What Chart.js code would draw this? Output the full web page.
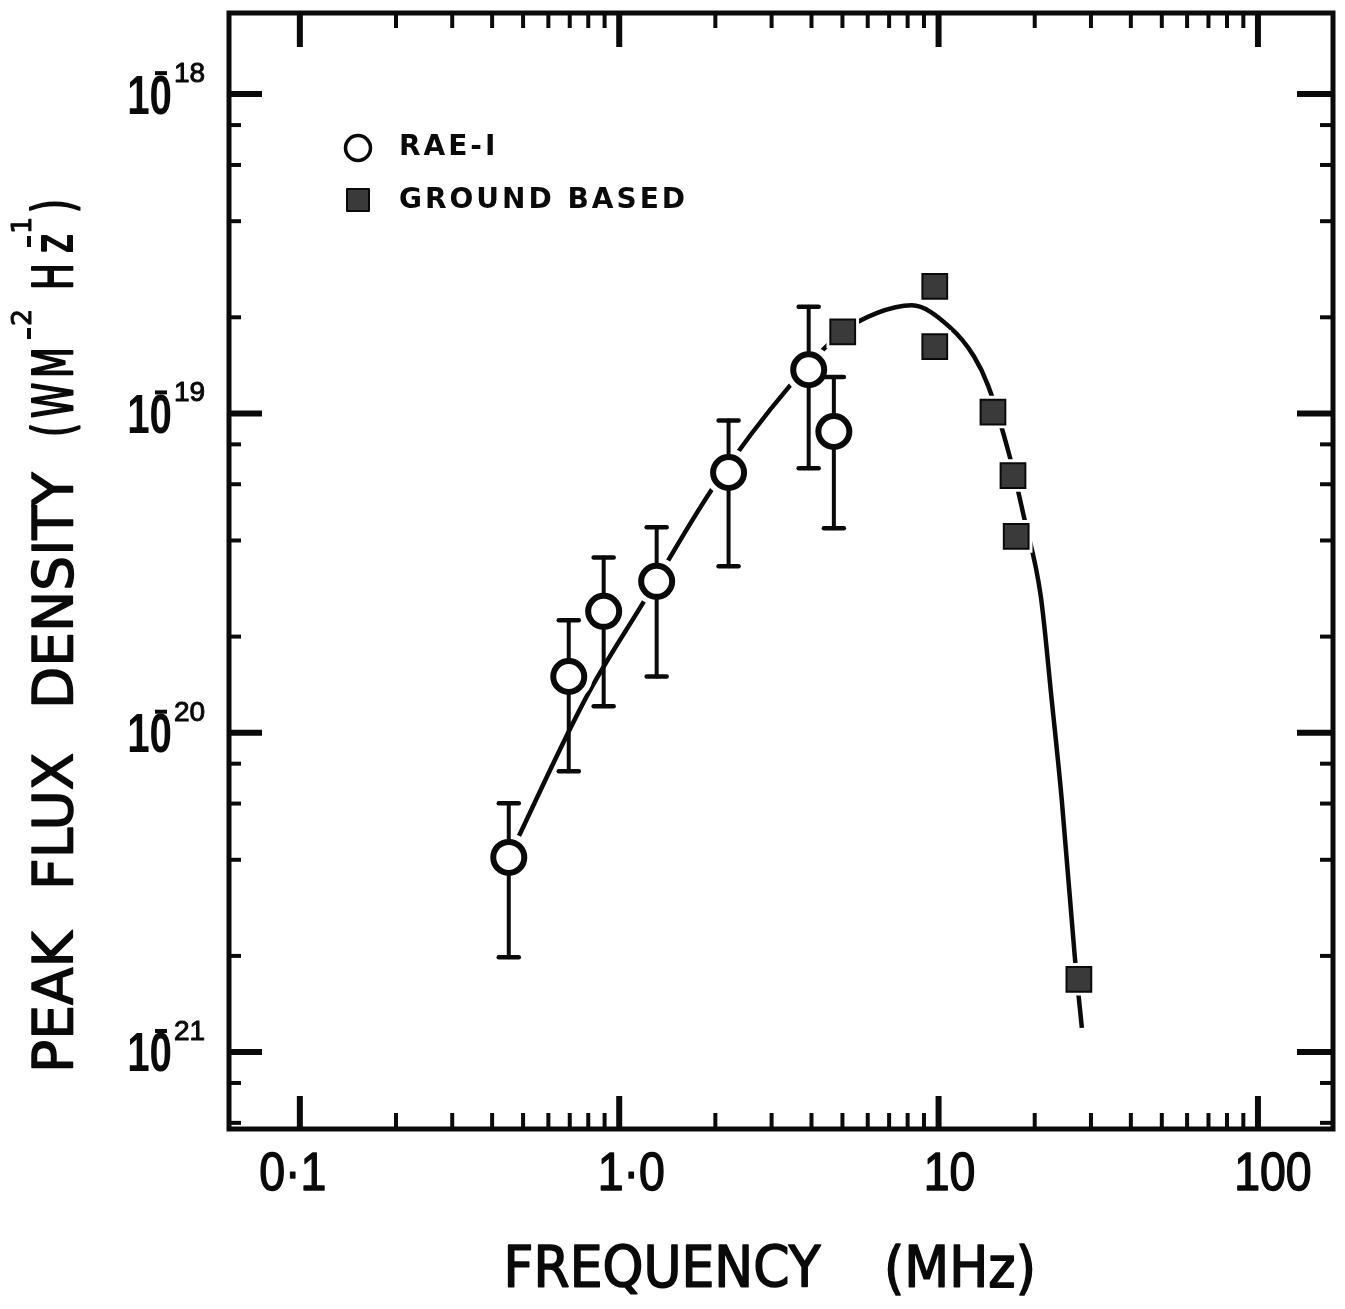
<!DOCTYPE html>
<html>
<head>
<meta charset="utf-8">
<script src="https://cdn.jsdelivr.net/npm/chart.js@4.4.1/dist/chart.umd.min.js"></script>
<style>
  html, body { margin: 0; padding: 0; background: #fff; overflow: hidden; }
  #wrap { width: 1345px; height: 1309px; }
  canvas { display: block; }
</style>
</head>
<body>
<div id="wrap"><canvas id="chart" width="1345" height="1309"></canvas></div>
<script>
// RAE-I points (MHz, W m^-2 Hz^-1) with error bar ends
const raeFreq = [0.451, 0.695, 0.894, 1.31, 2.20, 3.92, 4.70];
const raeFlux = [4.07e-21, 1.50e-20, 2.40e-20, 2.98e-20, 6.53e-20, 1.37e-19, 8.78e-20];
const raeHigh = [6.01e-21, 2.25e-20, 3.54e-20, 4.40e-20, 9.51e-20, 2.16e-19, 1.30e-19];
const raeLow  = [1.98e-21, 7.57e-21, 1.21e-20, 1.50e-20, 3.32e-20, 6.73e-20, 4.37e-20];

// ground based points
const groundFreq = [5.01, 9.73, 9.73, 14.8, 17.1, 17.5, 27.5];
const groundFlux = [1.80e-19, 2.50e-19, 1.62e-19, 1.01e-19, 6.39e-20, 4.12e-20, 1.69e-21];

// hand-drawn fit curve
const curveFreq = [0.451, 0.791, 1.19, 1.95, 3.42, 5.01, 6.40, 8.24, 10.8, 12.9, 14.3, 16.7, 18.5, 20.9, 22.6, 24.3, 26.7, 28.1];
const curveFlux = [4.07e-21, 1.30e-20, 2.56e-20, 5.78e-20, 1.22e-19, 1.80e-19, 2.06e-19, 2.18e-19, 1.87e-19,
                   1.51e-19, 1.22e-19, 7.33e-20, 4.75e-20, 2.67e-20, 1.27e-20, 6.18e-21, 1.99e-21, 1.19e-21];

// axes
const xMajor = [0.1, 1, 10, 100];
const xTickLabels = ["0·1", "1·0", "10", "100"];
const xMinor = [0.2, 0.3, 0.4, 0.5, 0.6, 0.7, 0.8, 0.9, 2, 3, 4, 5, 6, 7, 8, 9, 20, 30, 40, 50, 60, 70, 80, 90];
const yMajor = [1e-18, 1e-19, 1e-20, 1e-21];
const yTickExp = ["18", "19", "20", "21"];
const yMinor = [8e-19, 6e-19, 4e-19, 2e-19, 8e-20, 6e-20, 4e-20, 2e-20, 8e-21, 6e-21, 4e-21, 2e-21, 8e-22, 6e-22];

const ink = "#0a0a0a";
const pts = (xs, ys) => xs.map((v, i) => ({x: v, y: ys[i]}));

function line(ctx, x1, y1, x2, y2, w) {
  ctx.lineWidth = w;
  ctx.beginPath(); ctx.moveTo(x1, y1); ctx.lineTo(x2, y2); ctx.stroke();
}

// filled text with a thin outline for the lettering-set look
function heavy(ctx, t, x, y, w) {
  ctx.fillText(t, x, y);
  ctx.lineWidth = w;
  ctx.lineJoin = "round";
  ctx.strokeText(t, x, y);
}

// error bars go under the open circles
const errorBars = {
  id: "errorBars",
  beforeDatasetDraw(chart, args) {
    if (args.index !== 3) return;
    const {ctx, scales: {x, y}} = chart;
    ctx.save();
    ctx.strokeStyle = ink; ctx.lineCap = "round";
    raeFreq.forEach((f, i) => {
      const px = x.getPixelForValue(f);
      const hi = y.getPixelForValue(raeHigh[i]), lo = y.getPixelForValue(raeLow[i]);
      line(ctx, px, hi, px, lo, 4);
      line(ctx, px - 10, hi, px + 10, hi, 4.5);
      line(ctx, px - 10, lo, px + 10, lo, 4.5);
    });
    ctx.restore();
  }
};

const frame = {
  id: "frame",
  afterDraw(chart) {
    const {ctx, chartArea: a, scales: {x, y}} = chart;
    ctx.save();
    ctx.strokeStyle = ink; ctx.fillStyle = ink; ctx.lineCap = "butt";
    ctx.lineWidth = 5;
    ctx.strokeRect(a.left, a.top, a.right - a.left, a.bottom - a.top);

    xMajor.forEach(v => {
      const px = x.getPixelForValue(v);
      line(ctx, px, a.top, px, a.top + 34, 6);
      line(ctx, px, a.bottom, px, a.bottom - 33, 6);
    });
    xMinor.forEach(v => {
      const px = x.getPixelForValue(v);
      line(ctx, px, a.top, px, a.top + 15, 4);
      line(ctx, px, a.bottom, px, a.bottom - 16, 4);
    });
    yMajor.forEach(v => {
      const py = y.getPixelForValue(v);
      line(ctx, a.left, py, a.left + 33, py, 6);
      line(ctx, a.right, py, a.right - 36, py, 6);
    });
    yMinor.forEach(v => {
      const py = y.getPixelForValue(v);
      line(ctx, a.left, py, a.left + 12, py, 4);
      line(ctx, a.right, py, a.right - 13, py, 4);
    });

    // x tick labels, set a little off the tick like the lettering
    const nudge = [-7, 12, 11, 15];
    xMajor.forEach((v, i) => {
      ctx.save();
      ctx.translate(x.getPixelForValue(v) + nudge[i], 1175);
      ctx.scale(0.86, 1);
      ctx.font = "54px 'Liberation Sans'";
      ctx.textAlign = "center"; ctx.textBaseline = "middle";
      heavy(ctx, xTickLabels[i], 0, 0, 1.5);
      ctx.restore();
    });

    // y tick labels: 10 with bar over the 0 and exponent
    yMajor.forEach((v, i) => {
      const py = y.getPixelForValue(v);
      ctx.save();
      ctx.translate(172, py + 4);
      ctx.scale(0.72, 1);
      ctx.font = "bold 56px 'Liberation Sans'";
      ctx.textAlign = "right"; ctx.textBaseline = "middle";
      ctx.fillText("10", 0, 0);
      ctx.restore();
      ctx.fillRect(155, py - 23, 12, 4);
      ctx.font = "28px 'Liberation Sans'";
      ctx.textAlign = "left"; ctx.textBaseline = "alphabetic";
      heavy(ctx, yTickExp[i], 174, py - 12, 1);
    });

    // x axis title
    ctx.font = "52px 'DejaVu Sans'";
    ctx.textAlign = "center"; ctx.textBaseline = "middle";
    [["FREQUENCY", 662], ["(MHz)", 960]].forEach(([t, cx]) => {
      ctx.save();
      ctx.translate(cx, 1272);
      ctx.scale(1, 1.1);
      heavy(ctx, t, 0, 0, 1.5);
      ctx.restore();
    });

    // y axis title, read bottom to top
    ctx.save();
    ctx.translate(58, 1073);
    ctx.rotate(-Math.PI / 2);
    ctx.textAlign = "left"; ctx.textBaseline = "middle";
    ctx.font = "55px 'DejaVu Sans'";
    heavy(ctx, "PEAK", 0, 0, 1.5);
    heavy(ctx, "FLUX", 183, 0, 1.5);
    heavy(ctx, "DENSITY", 364, 0, 1.5);
    // condensed unit lettering
    [["(", 636], ["W", 655], ["M", 695], ["H", 783], ["z", 820], [")", 860]].forEach(([t, u]) => {
      ctx.save();
      ctx.translate(u, 0);
      ctx.scale(0.65, 1);
      heavy(ctx, t, 0, 0, 2);
      ctx.restore();
    });
    ctx.font = "27px 'DejaVu Sans'";
    ctx.fillRect(734, -31, 11, 4);
    heavy(ctx, "2", 747, -34, 1);
    ctx.fillRect(826, -31, 11, 4);
    heavy(ctx, "1", 839, -34, 1);
    ctx.restore();

    // legend
    ctx.lineWidth = 3.5;
    ctx.beginPath(); ctx.arc(358, 148, 12.5, 0, Math.PI * 2); ctx.stroke();
    ctx.fillStyle = "#3a3a3a"; ctx.fillRect(347, 189, 22, 22);
    ctx.lineWidth = 2; ctx.strokeRect(347, 189, 22, 22);
    ctx.fillStyle = ink;
    ctx.font = "bold 28px 'DejaVu Sans'";
    ctx.letterSpacing = "3px";
    ctx.textAlign = "left"; ctx.textBaseline = "middle";
    ctx.fillText("RAE-I", 399, 148);
    ctx.fillText("GROUND BASED", 399, 201);
    ctx.restore();
  }
};

new Chart(document.getElementById("chart"), {
  type: "scatter",
  data: {
    datasets: [
      { type: "line", label: "fit", data: pts(curveFreq, curveFlux), borderColor: ink, borderWidth: 4.5,
        cubicInterpolationMode: "monotone", pointRadius: 0, fill: false, order: 5 },
      { label: "halo rae", data: pts(raeFreq, raeFlux), pointRadius: 24, pointBackgroundColor: "#fff",
        pointBorderWidth: 0, order: 4 },
      { label: "halo ground", data: pts(groundFreq, groundFlux), pointStyle: "rect", pointRadius: 23,
        pointBackgroundColor: "#fff", pointBorderWidth: 0, order: 3 },
      { label: "RAE-I", data: pts(raeFreq, raeFlux), pointRadius: 15.5, pointBackgroundColor: "#fff",
        pointBorderColor: ink, pointBorderWidth: 6, order: 1 },
      { label: "GROUND BASED", data: pts(groundFreq, groundFlux), pointStyle: "rect", pointRadius: 17.5,
        pointBackgroundColor: "#3a3a3a", pointBorderColor: ink, pointBorderWidth: 2, order: 0 },
    ],
  },
  options: {
    responsive: false,
    animation: false,
    events: [],
    layout: { autoPadding: false, padding: { left: 229, top: 13, right: 12, bottom: 180 } },
    plugins: { legend: { display: false }, tooltip: { enabled: false } },
    scales: {
      x: { type: "logarithmic", min: 0.06, max: 171.8, display: false },
      y: { type: "logarithmic", min: 5.74e-22, max: 1.795e-18, display: false },
    },
  },
  plugins: [errorBars, frame],
});
</script>
</body>
</html>
